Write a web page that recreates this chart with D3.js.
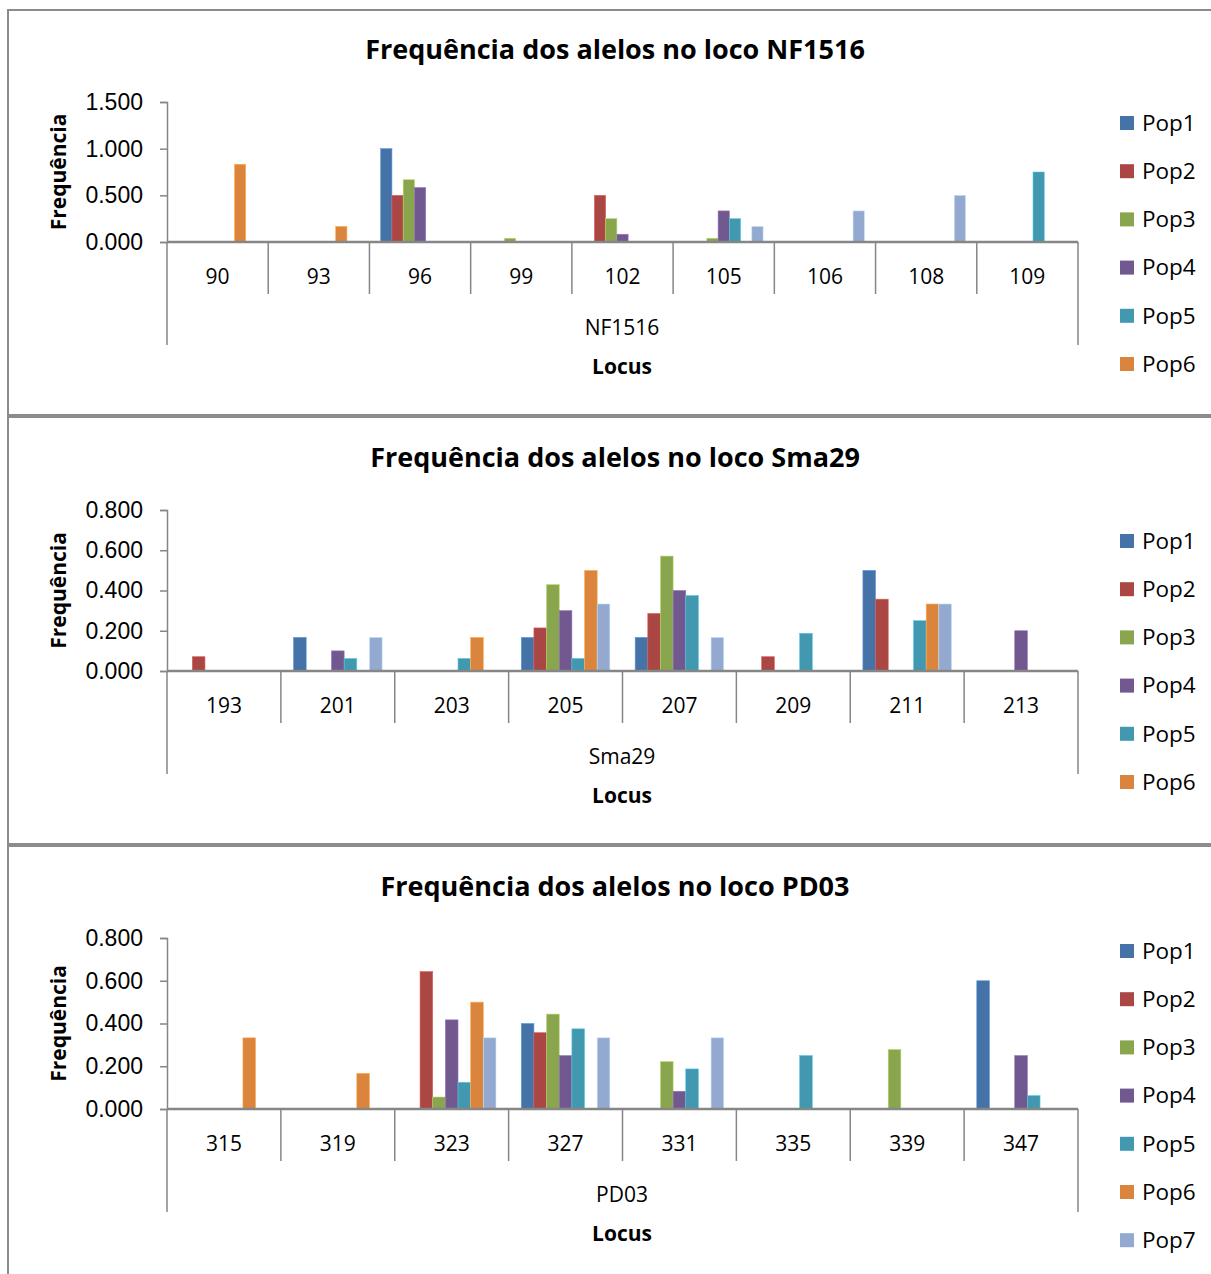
<!DOCTYPE html>
<html>
<head>
<meta charset="utf-8">
<script src="https://cdn.jsdelivr.net/npm/d3@7"></script>
<style>
  body { margin: 0; background: #fff; }
  svg { font-family: "Open Sans", Lato, "DejaVu Sans", sans-serif; }
</style>
</head>
<body>
<script>
// ---------------- data ----------------
var pops = ["Pop1", "Pop2", "Pop3", "Pop4", "Pop5", "Pop6", "Pop7"];
var popColors = ["#4572A7", "#AA4643", "#89A54E", "#71588F", "#4198AF", "#DB843D", "#93A9CF"];

// NF1516 - rows are alleles, columns Pop1..Pop7
var nfAlleles = ["90", "93", "96", "99", "102", "105", "106", "108", "109"];
var nfValues = [
  [0, 0, 0, 0, 0, 0.833, 0],
  [0, 0, 0, 0, 0, 0.167, 0],
  [1.0, 0.5, 0.667, 0.583, 0, 0, 0],
  [0, 0, 0.04, 0, 0, 0, 0],
  [0, 0.5, 0.25, 0.083, 0, 0, 0],
  [0, 0, 0.04, 0.333, 0.25, 0, 0.167],
  [0, 0, 0, 0, 0, 0, 0.333],
  [0, 0, 0, 0, 0, 0, 0.5],
  [0, 0, 0, 0, 0.75, 0, 0]
];
var nfTicks = [0, 0.5, 1.0, 1.5];

// Sma29
var smaAlleles = ["193", "201", "203", "205", "207", "209", "211", "213"];
var smaValues = [
  [0, 0.071, 0, 0, 0, 0, 0],
  [0.167, 0, 0, 0.1, 0.0625, 0, 0.167],
  [0, 0, 0, 0, 0.0625, 0.167, 0],
  [0.167, 0.214, 0.429, 0.3, 0.0625, 0.5, 0.333],
  [0.167, 0.286, 0.571, 0.4, 0.375, 0, 0.167],
  [0, 0.071, 0, 0, 0.1875, 0, 0],
  [0.5, 0.357, 0, 0, 0.25, 0.333, 0.333],
  [0, 0, 0, 0.2, 0, 0, 0]
];
var smaTicks = [0, 0.2, 0.4, 0.6, 0.8];

// PD03
var pdAlleles = ["315", "319", "323", "327", "331", "335", "339", "347"];
var pdValues = [
  [0, 0, 0, 0, 0, 0.333, 0],
  [0, 0, 0, 0, 0, 0.167, 0],
  [0, 0.643, 0.056, 0.417, 0.125, 0.5, 0.333],
  [0.4, 0.357, 0.444, 0.25, 0.375, 0, 0.333],
  [0, 0, 0.222, 0.083, 0.1875, 0, 0.333],
  [0, 0, 0, 0, 0.25, 0, 0],
  [0, 0, 0.278, 0, 0, 0, 0],
  [0.6, 0, 0, 0.25, 0.0625, 0, 0]
];
var pdTicks = [0, 0.2, 0.4, 0.6, 0.8];

// ---------------- page ----------------
var W = 1211, H = 1274;
var svg = d3.select("body").append("svg")
    .attr("width", W)
    .attr("height", H);

var color = d3.scaleOrdinal().domain(pops).range(popColors);
var fmt = d3.format(".3f");
var axisGray = "#868686";

// one chart panel
function drawChart(o) {
  var g = svg.append("g").attr("transform", "translate(0," + o.top + ")");

  // panel frame
  g.append("rect")
    .attr("x", 8).attr("y", 0)
    .attr("width", W + 10).attr("height", o.h)
    .attr("fill", "#fff")
    .attr("stroke", "#8c8c8c")
    .attr("stroke-width", 2);

  g.append("text")
    .attr("x", 615).attr("y", o.titleY)
    .attr("text-anchor", "middle")
    .attr("font-size", 27).attr("font-weight", "bold")
    .attr("fill", "#000")
    .text(o.title);

  var x0 = d3.scaleBand().domain(o.alleles).range([167, 1078]);
  var x1 = d3.scaleBand().domain(pops).range([0, x0.bandwidth()]).paddingOuter(1);
  var y = d3.scaleLinear().domain([0, o.ticks[o.ticks.length - 1]]).range([o.y0, o.y1]);

  // bars
  var rows = o.values.map(function(v, i) { return { allele: o.alleles[i], v: v }; });
  g.append("g").selectAll("g")
    .data(rows)
    .enter().append("g")
    .attr("transform", function(d) { return "translate(" + x0(d.allele) + ",0)"; })
    .selectAll("rect")
    .data(function(d) { return pops.map(function(p, i) { return { key: p, value: d.v[i] }; }).filter(function(d) { return d.value > 0; }); })
    .enter().append("rect")
    .attr("x", function(d) { return x1(d.key); })
    .attr("y", function(d) { return y(d.value); })
    .attr("width", x1.bandwidth())
    .attr("height", function(d) { return y(0) - y(d.value); })
    .attr("fill", function(d) { return color(d.key); })
    .attr("stroke", function(d) { return d3.color(color(d.key)).brighter(0.8); })
    .attr("stroke-width", 0.6);

  // y axis
  var ya = g.append("g")
    .attr("transform", "translate(167,0)")
    .call(d3.axisLeft(y).tickValues(o.ticks).tickFormat(fmt).tickSizeOuter(0).tickSize(7).tickPadding(17));
  ya.select(".domain").attr("stroke", axisGray).attr("stroke-width", 1.5);
  ya.selectAll(".tick line").attr("stroke", axisGray).attr("stroke-width", 1.5);
  ya.selectAll(".tick text").attr("font-size", 23).attr("fill", "#000").attr("font-family", null);

  // x axis line
  g.append("line")
    .attr("x1", 167).attr("x2", 1078)
    .attr("y1", o.y0).attr("y2", o.y0)
    .attr("stroke", axisGray).attr("stroke-width", 2.5);

  // category separators (first level)
  var seps = o.alleles.map(function(a) { return x0(a); }).concat([1078]);
  g.append("g").selectAll("line")
    .data(seps)
    .enter().append("line")
    .attr("x1", function(d) { return d; }).attr("x2", function(d) { return d; })
    .attr("y1", o.y0).attr("y2", function(d, i) { return (i === 0 || i === seps.length - 1) ? o.y0 + 103 : o.y0 + 52; })
    .attr("stroke", axisGray).attr("stroke-width", 1.5);

  g.append("g").selectAll("text")
    .data(o.alleles)
    .enter().append("text")
    .attr("x", function(d) { return x0(d) + x0.bandwidth() / 2; })
    .attr("y", o.y0 + 42)
    .attr("text-anchor", "middle")
    .attr("font-size", 21)
    .text(function(d) { return d; });

  // second level label (locus)
  g.append("text")
    .attr("x", 622).attr("y", o.y0 + 93)
    .attr("text-anchor", "middle")
    .attr("font-size", 21)
    .text(o.locus);

  g.append("text")
    .attr("x", 622).attr("y", o.y0 + 132)
    .attr("text-anchor", "middle")
    .attr("font-size", 21).attr("font-weight", "bold")
    .text("Locus");

  g.append("text")
    .attr("transform", "translate(66," + ((o.y0 + o.y1) / 2) + ") rotate(-90)")
    .attr("text-anchor", "middle")
    .attr("font-size", 21).attr("font-weight", "bold")
    .text("Frequência");

  // legend
  var leg = g.append("g").selectAll("g")
    .data(pops.slice(0, o.nLegend))
    .enter().append("g")
    .attr("transform", function(d, i) { return "translate(1120," + (o.legY + i * 48.2) + ")"; });
  leg.append("rect")
    .attr("x", 0).attr("y", -7)
    .attr("width", 14).attr("height", 14)
    .attr("fill", color);
  leg.append("text")
    .attr("x", 22).attr("y", 0)
    .attr("dy", "0.35em")
    .attr("font-size", 22.5)
    .text(function(d) { return d; });
}

drawChart({ top: 10, h: 405, title: "Frequência dos alelos no loco NF1516", titleY: 49,
  alleles: nfAlleles, values: nfValues, ticks: nfTicks, locus: "NF1516",
  y0: 232, y1: 92, legY: 113, nLegend: 6 });
drawChart({ top: 417, h: 427, title: "Frequência dos alelos no loco Sma29", titleY: 50,
  alleles: smaAlleles, values: smaValues, ticks: smaTicks, locus: "Sma29",
  y0: 254, y1: 93, legY: 124, nLegend: 6 });
drawChart({ top: 846, h: 440, title: "Frequência dos alelos no loco PD03", titleY: 50,
  alleles: pdAlleles, values: pdValues, ticks: pdTicks, locus: "PD03",
  y0: 263, y1: 92, legY: 105, nLegend: 7 });
</script>
</body>
</html>
